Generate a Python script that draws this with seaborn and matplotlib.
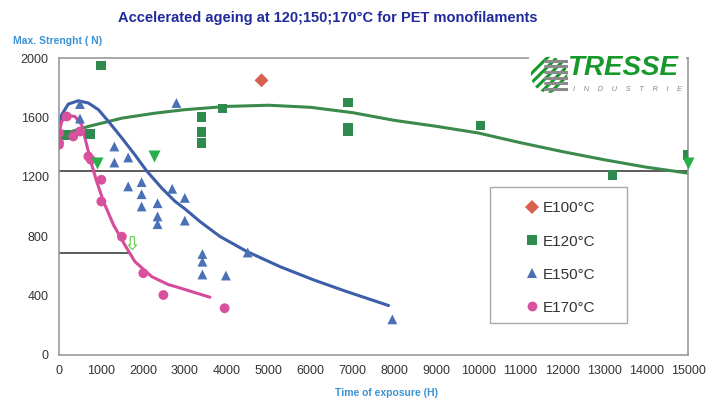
import matplotlib
matplotlib.use("Agg")
import matplotlib.pyplot as plt
from matplotlib.patches import Rectangle, Circle
import numpy as np
import pandas as pd
import seaborn as sns

# points (hours, N)
e100_h = [4830]
e100_n = [1850]

e120_h = [150, 740, 1000, 3400, 3400, 3400, 3900, 6900, 6900, 6900, 10050, 13200, 15000]
e120_n = [1483, 1488, 1950, 1600, 1500, 1430, 1660, 1700, 1530, 1505, 1545, 1210, 1345]

e150_h = [500, 500, 1320, 1320, 1650, 1650, 1970, 1970, 1970, 2350, 2350, 2350,
          2700, 2800, 3000, 3000, 3420, 3420, 3420, 3980, 4500, 7950]
e150_n = [1690, 1592, 1404, 1296, 1330, 1135, 1164, 1083, 1000, 1022, 933, 881,
          1119, 1697, 1058, 905, 680, 628, 542, 535, 690, 240]

e170_h = [0, 0, 0, 185, 340, 500, 700, 760, 1010, 1010, 1500, 2010, 2490, 3950]
e170_n = [1495, 1430, 1416, 1606, 1472, 1505, 1337, 1315, 1180, 1034, 797, 551, 404, 315]

# green arrow markers
arrow_h = [900, 2270, 15000]
arrow_n = [1292, 1340, 1290]

# trend curves
curve120_h = [0, 700, 1500, 2300, 3000, 4000, 5000, 6000, 7000, 8000, 9000, 10000,
              11000, 12000, 13000, 14000, 15000]
curve120_n = [1480, 1539, 1595, 1629, 1652, 1674, 1682, 1668, 1632, 1580, 1540, 1495,
              1430, 1370, 1315, 1265, 1225]

curve150_h = [0, 64, 222, 460, 700, 940, 1180, 1500, 1810, 2090, 2450, 2770, 3000,
              3360, 3840, 4480, 5270, 6070, 6860, 7860]
curve150_n = [1517, 1618, 1690, 1712, 1697, 1652, 1573, 1461, 1348, 1240, 1124, 1034,
              985, 899, 798, 697, 595, 506, 427, 333]

curve170_h = [0, 64, 222, 380, 540, 660, 780, 900, 1060, 1300, 1570, 1810, 2210,
              2600, 2900, 3300, 3600]
curve170_n = [1494, 1573, 1613, 1606, 1550, 1416, 1281, 1168, 1034, 876, 741, 629, 528,
              475, 450, 415, 389]

ref_high = 1240
ref_low = 685
ref_low_end = 1700

series = ["E100°C", "E120°C", "E150°C", "E170°C"]
colors = {"E100°C": "#d9604c", "E120°C": "#2e8a4e", "E150°C": "#4a70b5", "E170°C": "#d8519c"}
markers = {"E100°C": "D", "E120°C": "s", "E150°C": "^", "E170°C": "o"}

points = pd.concat([
    pd.DataFrame({"hours": e100_h, "strength": e100_n, "series": "E100°C"}),
    pd.DataFrame({"hours": e120_h, "strength": e120_n, "series": "E120°C"}),
    pd.DataFrame({"hours": e150_h, "strength": e150_n, "series": "E150°C"}),
    pd.DataFrame({"hours": e170_h, "strength": e170_n, "series": "E170°C"}),
], ignore_index=True)

curves = pd.concat([
    pd.DataFrame({"hours": curve120_h, "strength": curve120_n, "series": "E120°C"}),
    pd.DataFrame({"hours": curve150_h, "strength": curve150_n, "series": "E150°C"}),
    pd.DataFrame({"hours": curve170_h, "strength": curve170_n, "series": "E170°C"}),
], ignore_index=True)

sns.set_style("white")
plt.rcParams["font.family"] = ["Liberation Sans", "DejaVu Sans"]

fig = plt.figure(figsize=(7.23, 3.99), dpi=100)
ax = fig.add_axes([0.0816, 0.1103, 0.87, 0.7443])

# reference lines
ax.axhline(ref_high, color="#404040", lw=1.2, zorder=1)
ax.plot([0, ref_low_end], [ref_low, ref_low], color="#404040", lw=1.2, zorder=1)

line_colors = {"E120°C": "#3b8a4c", "E150°C": "#3d5ea8", "E170°C": "#d64c9c"}
sns.lineplot(data=curves, x="hours", y="strength", hue="series", palette=line_colors,
             estimator=None, sort=False, lw=2.2, legend=False, ax=ax, zorder=2)
for ln in ax.lines[2:]:
    ln.set_solid_joinstyle("round")
    ln.set_solid_capstyle("round")

sns.scatterplot(data=points, x="hours", y="strength", hue="series", style="series",
                hue_order=series, style_order=series, palette=colors, markers=markers,
                s=50, linewidth=0, ax=ax, zorder=3)

ax.scatter(arrow_h, arrow_n, marker="v", s=75, color="#25b04a", linewidth=0, zorder=4,
           clip_on=False)

# hollow arrow near 1700 h
ax.annotate("", xy=(1750, 690), xytext=(1750, 815),
            arrowprops=dict(arrowstyle="simple,head_width=0.6,tail_width=0.3,head_length=0.35",
                            fc="white", ec="#6fcf5f", lw=0.9))

ax.set_xlim(0, 15000)
ax.set_ylim(0, 2000)
ax.set_xticks(np.arange(0, 15001, 1000))
ax.set_yticks(np.arange(0, 2001, 400))
ax.set_yticks(np.arange(0, 2001, 100), minor=True)
ax.tick_params(axis="both", which="major", labelsize=9, labelcolor="#333333",
               direction="out", length=4, color="#888888", width=1)
ax.tick_params(axis="y", which="minor", direction="out", length=2, color="#888888")
ax.tick_params(axis="x", pad=3)
ax.set_xlabel("")
ax.set_ylabel("")
for sp in ax.spines.values():
    sp.set_color("#9a9a9a")
    sp.set_linewidth(1.2)

# legend with a wide frame drawn separately
leg = ax.legend(loc="upper left", bbox_to_anchor=(0.726, 0.548), fontsize=11,
                frameon=False, labelspacing=1.25, handletextpad=0.2,
                borderpad=0.6, handlelength=1.0, borderaxespad=0)
for t in leg.get_texts():
    t.set_color("#333333")
ax.add_patch(Rectangle((0.685, 0.108), 0.2175, 0.456, transform=ax.transAxes,
                       fc="white", ec="#aaaaaa", lw=1, zorder=5))
leg.set_zorder(6)

fig.text(0.453, 0.955, "Accelerated ageing at 120;150;170°C for PET monofilaments",
         ha="center", va="center", fontsize=10.5, fontweight="bold", color="#1f2a9c")
fig.text(0.018, 0.898, "Max. Strenght ( N)", ha="left", va="center", fontsize=7.5,
         fontweight="bold", color="#3a92d4")
fig.text(0.535, 0.015, "Time of exposure (H)", ha="center", va="center", fontsize=7.5,
         fontweight="bold", color="#3a92d4")

# logo on a white patch
fig.patches.append(Rectangle((0.731, 0.76), 0.218, 0.105, transform=fig.transFigure,
                             fc="white", ec="none", zorder=10))
fig.text(0.784, 0.829, "TRESSE", ha="left", va="center", fontsize=20,
         fontweight="heavy", style="italic", color="#17982a", zorder=11)
fig.text(0.792, 0.776, "I    N    D    U    S    T    R    I    E", ha="left", va="center",
         fontsize=5.5, style="italic", color="#888888", zorder=11)
logo = fig.add_axes([0.733, 0.765, 0.053, 0.095], zorder=12)
logo.set_xlim(-1, 1)
logo.set_ylim(-1, 1)
logo.axis("off")
disc = Circle((0, 0), 0.95, transform=logo.transData)
for k in np.linspace(-2, 2, 9):
    ln, = logo.plot([k - 1, k + 1], [-1, 1], color="#17982a", lw=2.2)
    ln.set_clip_path(disc)
for yy in np.linspace(-0.75, 0.75, 6):
    logo.plot([-0.2, 1.0], [yy, yy], color="#8a8a8a", lw=2.2)

fig.savefig("out.png", dpi=100)
